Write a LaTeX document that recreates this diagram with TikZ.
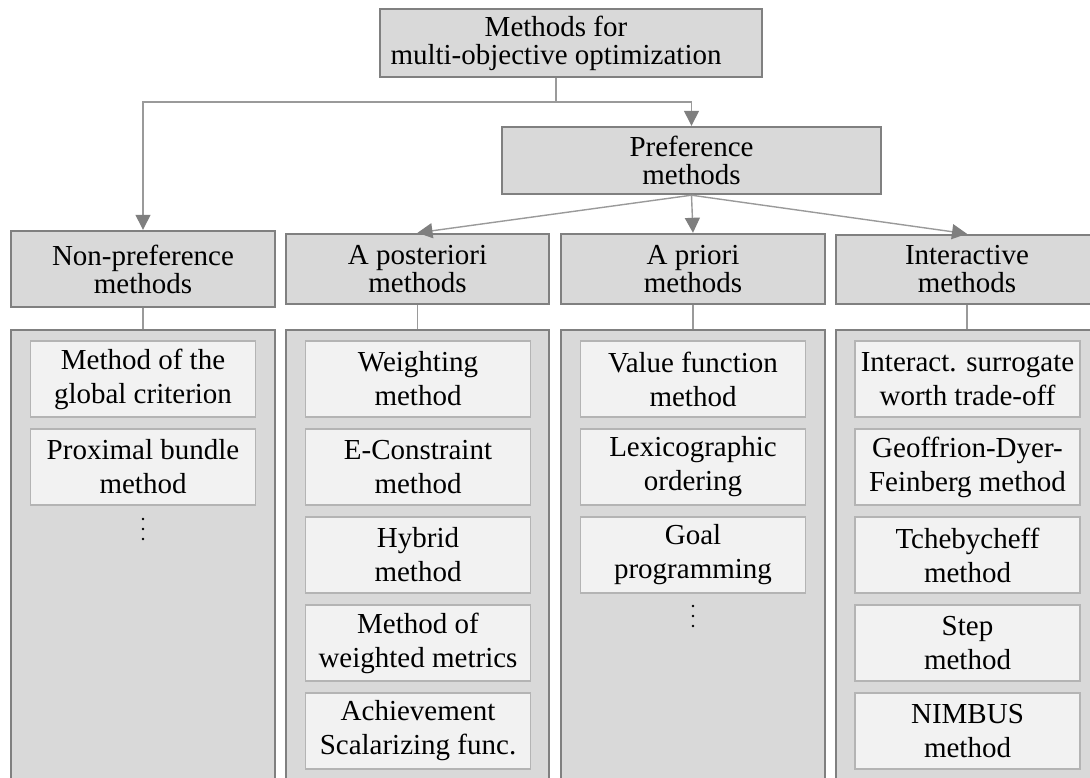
\documentclass[tikz,border=0pt]{standalone}
\usepackage{fontspec}
\setmainfont{Liberation Serif}
\usetikzlibrary{arrows.meta}
\definecolor{boxfill}{HTML}{D9D9D9}
\definecolor{boxedge}{HTML}{808080}
\definecolor{itemfill}{HTML}{F2F2F2}
\definecolor{itemedge}{HTML}{B4B4B4}
\definecolor{linkcol}{HTML}{9A9A9A}
\definecolor{tipcol}{HTML}{7F7F7F}
\newcommand\headfont{\fontsize{29}{28}\selectfont}
\newcommand\itemfont{\fontsize{29}{34}\selectfont}
\begin{document}
\begin{tikzpicture}[x=1pt,y=-1pt,
  head/.style={draw=boxedge, line width=2.4pt, fill=boxfill, inner sep=0pt, align=center, font=\headfont},
  panel/.style={draw=boxedge, line width=2.4pt, fill=boxfill, inner sep=0pt, anchor=north, minimum height=480pt},
  method/.style={draw=itemedge, line width=1.3pt, fill=itemfill, inner sep=0pt, align=center, font=\itemfont, minimum width=225pt, minimum height=76pt},
  link/.style={draw=linkcol, line width=1.4pt},
  arrow/.style={link, -{Triangle[width=15pt,length=15pt,color=tipcol]}},
  more/.style={circle, fill=black, inner sep=0pt, minimum size=2.6pt}
]
\useasboundingbox (0,0) rectangle (1090,778);
\clip (0,0) rectangle (1090,778);

% top of the hierarchy
\node[head, minimum width=382pt, minimum height=68pt] (root) at (571,43) {};
\node[align=center, font=\headfont, inner sep=0pt] (roottext) at (556,43) {Methods for\\multi-objective optimization};
\node[head, minimum width=379pt, minimum height=67pt] (pref) at (691.5,160.5) {Preference\\methods};

% column headers
\node[head, minimum width=264pt, minimum height=76pt] (nonpref) at (143,269) {Non-preference\\methods};
\node[head, minimum width=263pt, minimum height=70pt] (apost) at (417.5,269) {A posteriori\\methods};
\node[head, minimum width=264pt, minimum height=70pt] (aprio) at (693,269) {A priori\\methods};
\node[head, minimum width=262pt, minimum height=69pt] (inter) at (967,269.5) {Interactive\\methods};

% column panels
\node[panel, minimum width=264pt] (pnonpref) at (143,328.5) {};
\node[panel, minimum width=263pt] (papost) at (417.5,328.5) {};
\node[panel, minimum width=264pt] (paprio) at (693,328.5) {};
\node[panel, minimum width=262pt] (pinter) at (967,328.5) {};

% connectors
\coordinate (split) at (556,102);
\draw[arrow] (root.south -| split) -- (split) -| (nonpref.north);
\draw[arrow] (split) -| (pref.north);
\draw[arrow] (pref.south) -- (apost.north);
\draw[arrow] (pref.south) -- (aprio.north);
\draw[arrow] (pref.south) -- (inter.north);
\draw[link] (nonpref.south) -- (pnonpref.north);
\draw[link] (apost.south) -- (papost.north);
\draw[link] (aprio.south) -- (paprio.north);
\draw[link] (inter.south) -- (pinter.north);

% non-preference methods
\node[method] (np1) at (143,379) {Method of the\\global criterion};
\node[method] (np2) at (143,467) {Proximal bundle\\method};
\foreach \k in {0,1,2} \node[more] (npdot\k) at (143,519+10*\k) {};

% a posteriori methods
\node[method] (ap1) at (418,379) {Weighting\\method};
\node[method] (ap2) at (418,467) {E-Constraint\\method};
\node[method] (ap3) at (418,555) {Hybrid\\method};
\node[method] (ap4) at (418,643) {Method of\\weighted metrics};
\node[method] (ap5) at (418,731) {Achievement\\Scalarizing func.};

% a priori methods
\node[method] (pr1) at (693,379) {Value function\\method};
\node[method] (pr2) at (693,467) {Lexicographic\\ordering};
\node[method] (pr3) at (693,555) {Goal\\programming};
\foreach \k in {0,1,2} \node[more] (prdot\k) at (693,606+10*\k) {};

% interactive methods
\node[method] (in1) at (967.5,379) {Interact. surrogate\\worth trade-off};
\node[method] (in2) at (967.5,467) {Geoffrion-Dyer-\\Feinberg method};
\node[method] (in3) at (967.5,555) {Tchebycheff\\method};
\node[method] (in4) at (967.5,643) {Step\\method};
\node[method] (in5) at (967.5,731) {NIMBUS\\method};
\end{tikzpicture}
\end{document}
